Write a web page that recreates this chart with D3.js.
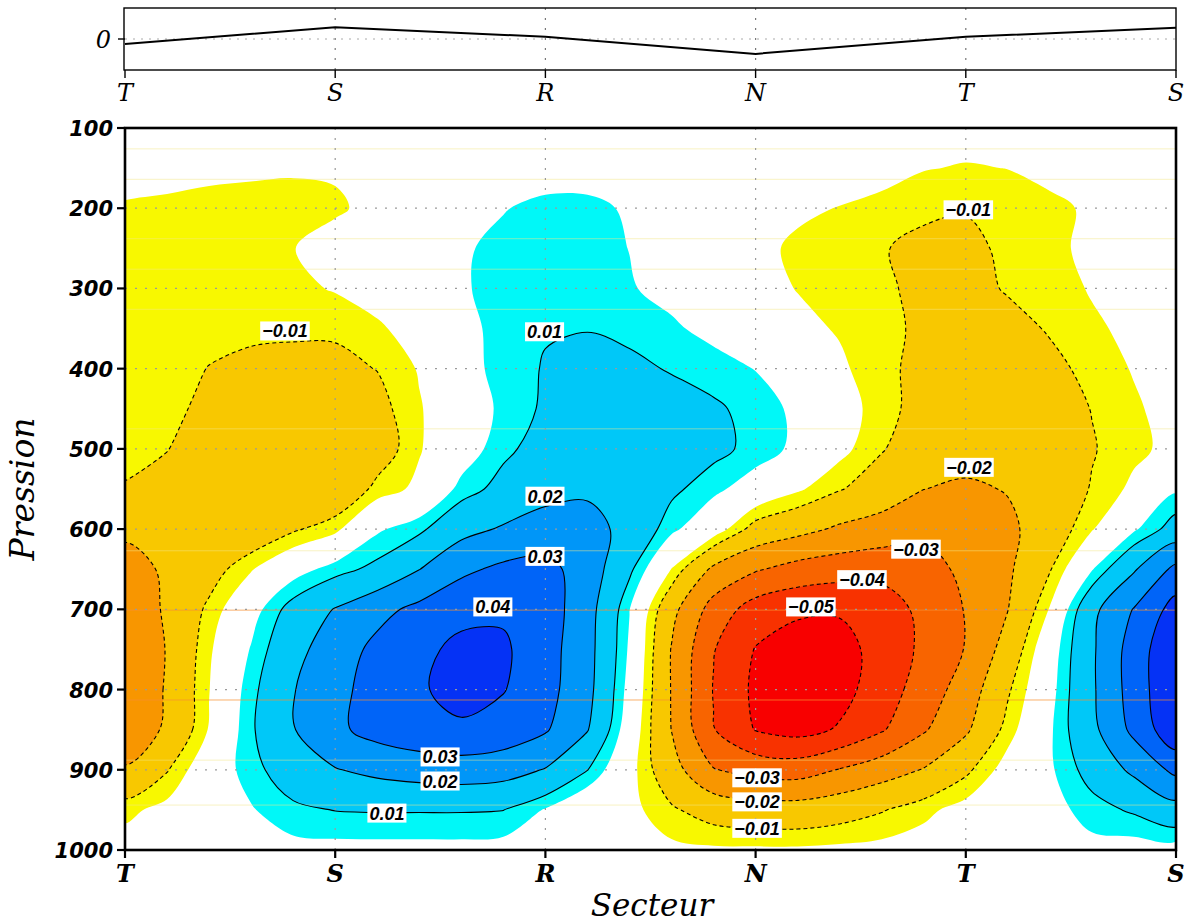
<!DOCTYPE html>
<html>
<head>
<meta charset="utf-8">
<script src="https://cdn.jsdelivr.net/npm/d3@7"></script>
<style>
  body { margin: 0; background: #ffffff; }
  svg { display: block; }
</style>
</head>
<body>
<svg id="chart" width="1187" height="923"></svg>
<script>
// ---------------- DATA ----------------
const sectorLabels = ["T", "S", "R", "N", "T", "S"];
const sectorPositions = [0, 1, 2, 3, 4, 5];
// top panel series (one value per sector label)
const topSeries = [-0.16, 0.38, 0.07, -0.48, 0.07, 0.36];
const topTickValues = [0];
const pressureTicks = [100, 200, 300, 400, 500, 600, 700, 800, 900, 1000];
const gridLinePressures = [200, 300, 400, 500, 600, 700, 800, 900];

// grid of the field: columns = sector positions, rows = pressure levels
const gridSectors = [0, 0.2, 0.4, 0.6, 0.8, 1.0, 1.2, 1.4, 1.6, 1.8, 2.0, 2.2, 2.4, 2.6, 2.8, 3.0, 3.2, 3.4, 3.6, 3.8, 4.0, 4.2, 4.4, 4.6, 4.8, 5.0];
const gridPressures = [100, 150, 200, 250, 300, 350, 400, 450, 500, 550, 600, 650, 700, 750, 800, 850, 900, 950, 1000];

const p100  = [-0.002,-0.002,-0.002,-0.0025,-0.0025,-0.002,-0.001,0,0.0005,0.001,0.0015,0.0015,0.001,0,-0.0005,-0.001,-0.001,-0.0015,-0.002,-0.002,-0.0025,-0.002,-0.0015,-0.001,-0.0005,0];
const p150  = [-0.003,-0.0032,-0.0038,-0.004,-0.0045,-0.0042,-0.002,0,0.0015,0.0025,0.003,0.003,0.0025,0.001,-0.0005,-0.001,-0.0015,-0.002,-0.003,-0.0047,-0.0054,-0.0049,-0.003,-0.0015,-0.0005,0];
const p200  = [-0.0055,-0.006,-0.0065,-0.007,-0.0065,-0.006,-0.003,-0.001,0.002,0.0048,0.006,0.006,0.0045,0.002,0,-0.002,-0.004,-0.0052,-0.0065,-0.0085,-0.0095,-0.008,-0.0065,-0.004,-0.002,-0.001];
const p250  = [-0.006,-0.0065,-0.007,-0.0065,-0.0052,-0.002,0,0.002,0.0045,0.006,0.007,0.007,0.0049,0.002,-0.001,-0.0035,-0.006,-0.0075,-0.0095,-0.012,-0.012,-0.0085,-0.0065,-0.0035,-0.0015,-0.0005];
const p300  = [-0.0065,-0.007,-0.0075,-0.0075,-0.0065,-0.0045,-0.002,0.001,0.0045,0.0065,0.008,0.0075,0.0055,0.003,0.001,-0.003,-0.0052,-0.007,-0.009,-0.0115,-0.012,-0.0095,-0.0075,-0.0045,-0.002,0];
const p350  = [-0.0065,-0.0075,-0.008,-0.0088,-0.009,-0.009,-0.006,-0.002,0.0035,0.0065,0.0095,0.0098,0.0085,0.006,0.003,0.001,-0.0035,-0.0055,-0.008,-0.0115,-0.0125,-0.012,-0.0095,-0.006,-0.0035,-0.0015];
const p400  = [-0.0065,-0.0075,-0.0102,-0.0115,-0.012,-0.0118,-0.0098,-0.0045,0.0025,0.007,0.0105,0.012,0.0115,0.0095,0.0075,0.0048,0,-0.004,-0.008,-0.0125,-0.014,-0.0135,-0.0115,-0.0085,-0.0045,-0.002];
const p450  = [-0.007,-0.0085,-0.0115,-0.0135,-0.014,-0.0138,-0.0125,-0.0055,0,0.0065,0.011,0.0135,0.0135,0.013,0.011,0.008,0.0035,-0.002,-0.0075,-0.013,-0.0145,-0.0145,-0.0135,-0.0098,-0.006,-0.002];
const p500  = [-0.008,-0.0098,-0.0135,-0.0155,-0.016,-0.016,-0.0145,-0.0055,0.001,0.0085,0.013,0.0155,0.016,0.0145,0.012,0.008,0.0035,-0.003,-0.0095,-0.0145,-0.016,-0.016,-0.0145,-0.0105,-0.0065,-0.003];
const p550  = [-0.0105,-0.0125,-0.0155,-0.0175,-0.0185,-0.0175,-0.008,-0.0035,0.007,0.0125,0.0165,0.0185,0.0165,0.0115,0.0065,0.0015,-0.004,-0.0095,-0.014,-0.0199,-0.0215,-0.0195,-0.0155,-0.0095,-0.0035,0.004];
const p600  = [-0.018,-0.019,-0.019,-0.0165,-0.011,-0.0065,0.004,0.0085,0.017,0.021,0.0245,0.0235,0.017,0.0065,-0.001,-0.013,-0.017,-0.0215,-0.0245,-0.027,-0.027,-0.022,-0.015,-0.0055,0.004,0.0135];
const p650  = [-0.024,-0.0185,-0.0135,-0.0055,0.002,0.0075,0.012,0.0198,0.028,0.032,0.033,0.0255,0.0115,-0.0052,-0.022,-0.029,-0.0335,-0.0355,-0.0365,-0.036,-0.0265,-0.0215,-0.0105,0.0045,0.019,0.0325];
const p700  = [-0.028,-0.0185,-0.0085,0.002,0.013,0.0205,0.027,0.0325,0.037,0.0385,0.035,0.024,0.0052,-0.017,-0.034,-0.0445,-0.048,-0.049,-0.046,-0.037,-0.0295,-0.0202,-0.0045,0.0175,0.0305,0.044];
const p750  = [-0.0295,-0.0195,-0.006,0.0055,0.017,0.025,0.0325,0.0375,0.0425,0.0415,0.034,0.0235,0.004,-0.0205,-0.0395,-0.0505,-0.0555,-0.0535,-0.0465,-0.038,-0.0295,-0.016,0.001,0.0185,0.0345,0.049];
const p800  = [-0.0295,-0.019,-0.0052,0.008,0.0195,0.0275,0.0335,0.0385,0.0445,0.0405,0.0335,0.023,0.0025,-0.0205,-0.0405,-0.052,-0.057,-0.0535,-0.045,-0.0355,-0.0255,-0.011,0.0025,0.0185,0.0345,0.0495];
const p850  = [-0.027,-0.0185,-0.0045,0.009,0.0195,0.028,0.0335,0.0365,0.038,0.036,0.031,0.0205,0.0005,-0.0202,-0.0395,-0.0505,-0.0535,-0.049,-0.041,-0.031,-0.0215,-0.0075,0.004,0.0175,0.0325,0.0475];
const p900  = [-0.019,-0.0105,0.0005,0.0075,0.015,0.0195,0.0225,0.0245,0.0255,0.024,0.0195,0.0102,-0.0025,-0.016,-0.0295,-0.0335,-0.0345,-0.0295,-0.0245,-0.0195,-0.0115,-0.002,0.004,0.013,0.022,0.0325];
const p950  = [-0.0065,-0.003,0,0.0045,0.0085,0.0102,0.0105,0.0105,0.0105,0.0101,0.0045,-0.002,-0.003,-0.009,-0.0135,-0.015,-0.0155,-0.0135,-0.0105,-0.0065,-0.0025,0,0.0025,0.0075,0.011,0.016];
const p1000 = [-0.002,-0.001,0,0.002,0.003,0.003,0.003,0.003,0.003,0.0025,0.001,-0.001,-0.0025,-0.0035,-0.004,-0.004,-0.004,-0.0035,-0.003,-0.002,-0.001,0,0.001,0.003,0.002,0.002];
const fieldRows = [p100,p150,p200,p250,p300,p350,p400,p450,p500,p550,p600,p650,p700,p750,p800,p850,p900,p950,p1000];

// shading thresholds and colours
const posShadeLevels = [0.005, 0.01, 0.02, 0.03, 0.04];
const posShadeColors = ["#00f8f8", "#00c8f8", "#0096f8", "#0064f8", "#0532f5"];
const negShadeLevels = [-0.005, -0.01, -0.02, -0.03, -0.04, -0.05];
const negShadeColors = ["#f8f800", "#f8c800", "#f89600", "#f86400", "#f83200", "#f80000"];
const posLineLevels = [0.01, 0.02, 0.03, 0.04, 0.05];
const negLineLevels = [-0.01, -0.02, -0.03, -0.04, -0.05];

// contour labels: value, sector position, pressure
const labelValues    = [-0.01, 0.01, 0.02, 0.03, 0.04, 0.03, 0.02, 0.01, -0.01, -0.02, -0.03, -0.04, -0.05, -0.03, -0.02, -0.01];
const labelSectors   = [0.761, 1.996, 1.998, 1.998, 1.750, 1.499, 1.499, 1.246, 4.012, 4.015, 3.763, 3.506, 3.263, 3.007, 3.007, 3.007];
const labelPressures = [353, 354, 559, 634, 697, 884, 914, 954, 202, 523, 625, 663, 697, 910, 940, 973];

// faint shading seams visible in the picture (pressure levels)
const seamPressures = [126, 164, 238, 276, 326, 475, 627, 701, 813, 888, 944];
const seamStrong    = [0, 0, 0, 0, 0, 0, 0, 1, 1, 0, 0];

// ---------------- DRAW ----------------
const svg = d3.select("#chart");
const X0 = 125, X1 = 1176, Y0 = 128, Y1 = 850;
const x = d3.scaleLinear().domain([0, 5]).range([X0, X1]);
const y = d3.scaleLinear().domain([100, 1000]).range([Y0, Y1]);
const topY = d3.scaleLinear().domain([-1, 1]).range([70, 8]);

const nx = gridSectors.length, ny = gridPressures.length;
const flat = [];
fieldRows.forEach(r => r.forEach(v => flat.push(v)));
const negFlat = flat.map(v => -v);
const du = gridSectors[1] - gridSectors[0];
const dp = gridPressures[1] - gridPressures[0];
const gen = d3.contours().size([nx, ny]);

// contour grid coordinates -> pixels (sample i sits at grid coordinate i + 0.5)
const toPx = pt => [x(gridSectors[0] + (pt[0] - 0.5) * du), y(gridPressures[0] + (pt[1] - 0.5) * dp)];
const ringLine = d3.line().curve(d3.curveCatmullRomClosed.alpha(0.5));
function smoothPath(mp) {
  let d = "";
  mp.coordinates.forEach(poly => poly.forEach(ring => {
    const pts = ring.slice(0, ring.length - 1).map(toPx);
    if (pts.length > 2) d += ringLine(pts);
  }));
  return d;
}

const defs = svg.append("defs");
defs.append("clipPath").attr("id", "plotClip")
  .append("rect").attr("x", X0).attr("y", Y0).attr("width", X1 - X0).attr("height", Y1 - Y0);

const plot = svg.append("g").attr("clip-path", "url(#plotClip)");

// fills
posShadeLevels.forEach((lv, i) => {
  plot.append("path").attr("d", smoothPath(gen.contour(flat, lv)))
    .attr("fill", posShadeColors[i]).attr("fill-rule", "evenodd").attr("stroke", "none");
});
negShadeLevels.forEach((lv, i) => {
  plot.append("path").attr("d", smoothPath(gen.contour(negFlat, -lv)))
    .attr("fill", negShadeColors[i]).attr("fill-rule", "evenodd").attr("stroke", "none");
});

// faint seams
seamPressures.forEach((p, i) => {
  plot.append("line")
    .attr("x1", X0).attr("x2", X1).attr("y1", y(p)).attr("y2", y(p))
    .attr("stroke", seamStrong[i] ? "#f89030" : "#f4e88a")
    .attr("stroke-width", 1)
    .attr("opacity", seamStrong[i] ? 0.7 : 0.5);
});

// grid (dotted)
gridLinePressures.forEach(p => {
  plot.append("line").attr("x1", X0).attr("x2", X1).attr("y1", y(p)).attr("y2", y(p))
    .attr("stroke", "#9a9a9a").attr("stroke-width", 1.2).attr("stroke-dasharray", "2,8");
});
sectorPositions.slice(1, 5).forEach(s => {
  plot.append("line").attr("x1", x(s)).attr("x2", x(s)).attr("y1", Y0).attr("y2", Y1)
    .attr("stroke", "#9a9a9a").attr("stroke-width", 1.2).attr("stroke-dasharray", "2,8");
});

// contour lines
posLineLevels.forEach(lv => {
  plot.append("path").attr("d", smoothPath(gen.contour(flat, lv)))
    .attr("fill", "none").attr("stroke", "#000").attr("stroke-width", 1.1);
});
negLineLevels.forEach(lv => {
  plot.append("path").attr("d", smoothPath(gen.contour(negFlat, -lv)))
    .attr("fill", "none").attr("stroke", "#000").attr("stroke-width", 1.1)
    .attr("stroke-dasharray", "4,3");
});

// contour labels
const fmt = v => (v < 0 ? "\u2212" : "") + Math.abs(v).toFixed(2);
const labG = svg.append("g");
labelValues.forEach((v, i) => {
  const g = labG.append("g").attr("transform", `translate(${x(labelSectors[i])},${y(labelPressures[i])})`);
  const r = g.append("rect").attr("fill", "#fff");
  const t = g.append("text").text(fmt(v))
    .attr("text-anchor", "middle").attr("y", 6.5)
    .style("font-family", "'Liberation Sans', Arial, sans-serif")
    .style("font-weight", "bold").style("font-style", "italic").style("font-size", "18px")
    .attr("fill", "#000");
  const w = t.node().getComputedTextLength() + 4;
  r.attr("x", -w / 2).attr("y", -9.5).attr("width", w).attr("height", 19);
});

// main frame
svg.append("rect").attr("x", X0).attr("y", Y0).attr("width", X1 - X0).attr("height", Y1 - Y0)
  .attr("fill", "none").attr("stroke", "#000").attr("stroke-width", 2.6);

// y axis ticks and labels
const axG = svg.append("g");
pressureTicks.forEach(p => {
  axG.append("line").attr("x1", X0 - 8).attr("x2", X0).attr("y1", y(p)).attr("y2", y(p))
    .attr("stroke", "#000").attr("stroke-width", 2.2);
  axG.append("text").text(p).attr("x", X0 - 12).attr("y", y(p) + 8)
    .attr("text-anchor", "end")
    .style("font-family", "'DejaVu Sans', sans-serif").style("font-weight", "bold")
    .style("font-style", "oblique").style("font-size", "21px").attr("fill", "#000");
});
// x axis ticks and labels
sectorPositions.forEach((s, i) => {
  axG.append("line").attr("x1", x(s)).attr("x2", x(s)).attr("y1", Y1).attr("y2", Y1 + 8)
    .attr("stroke", "#000").attr("stroke-width", 2.2);
  axG.append("text").text(sectorLabels[i]).attr("x", x(s)).attr("y", Y1 + 32)
    .attr("text-anchor", "middle")
    .style("font-family", "'DejaVu Serif', serif").style("font-weight", "bold")
    .style("font-style", "italic").style("font-size", "24px").attr("fill", "#000");
});
svg.append("text").text("Secteur").attr("x", 652).attr("y", 916).attr("text-anchor", "middle")
  .style("font-family", "'DejaVu Serif', serif").style("font-style", "italic")
  .style("font-size", "31px").attr("fill", "#000");
svg.append("text").text("Pression")
  .attr("transform", "translate(34,489) rotate(-90)").attr("text-anchor", "middle")
  .style("font-family", "'DejaVu Serif', serif").style("font-style", "italic")
  .style("font-size", "33px").attr("fill", "#000");

// ---------------- TOP PANEL ----------------
const topG = svg.append("g");
const TY0 = topY(1), TY1 = topY(-1);
sectorPositions.slice(1, 5).forEach(s => {
  topG.append("line").attr("x1", x(s)).attr("x2", x(s)).attr("y1", TY0).attr("y2", TY1)
    .attr("stroke", "#777").attr("stroke-width", 1.2).attr("stroke-dasharray", "2,8");
});
topTickValues.forEach(v => {
  topG.append("line").attr("x1", X0).attr("x2", X1).attr("y1", topY(v)).attr("y2", topY(v))
    .attr("stroke", "#aaa").attr("stroke-width", 1).attr("stroke-dasharray", "2,6");
});
topG.append("rect").attr("x", X0 - 1).attr("y", TY0).attr("width", X1 - X0 + 1).attr("height", TY1 - TY0)
  .attr("fill", "none").attr("stroke", "#000").attr("stroke-width", 1.4);
topG.append("path").datum(topSeries)
  .attr("d", d3.line().x((d, i) => x(sectorPositions[i])).y(d => topY(d)))
  .attr("fill", "none").attr("stroke", "#000").attr("stroke-width", 2);
sectorPositions.forEach((s, i) => {
  topG.append("line").attr("x1", x(s)).attr("x2", x(s)).attr("y1", TY1).attr("y2", TY1 + 8)
    .attr("stroke", "#000").attr("stroke-width", 1.4);
  topG.append("text").text(sectorLabels[i]).attr("x", x(s)).attr("y", TY1 + 31)
    .attr("text-anchor", "middle")
    .style("font-family", "'DejaVu Serif', serif").style("font-style", "italic")
    .style("font-size", "24px").attr("fill", "#000");
});
topTickValues.forEach(v => {
  topG.append("line").attr("x1", X0 - 7).attr("x2", X0).attr("y1", topY(v)).attr("y2", topY(v))
    .attr("stroke", "#000").attr("stroke-width", 1.4);
  topG.append("text").text(v).attr("x", X0 - 14).attr("y", topY(v) + 9)
    .attr("text-anchor", "end")
    .style("font-family", "'DejaVu Serif', serif").style("font-style", "italic")
    .style("font-size", "24px").attr("fill", "#000");
});
</script>
</body>
</html>
